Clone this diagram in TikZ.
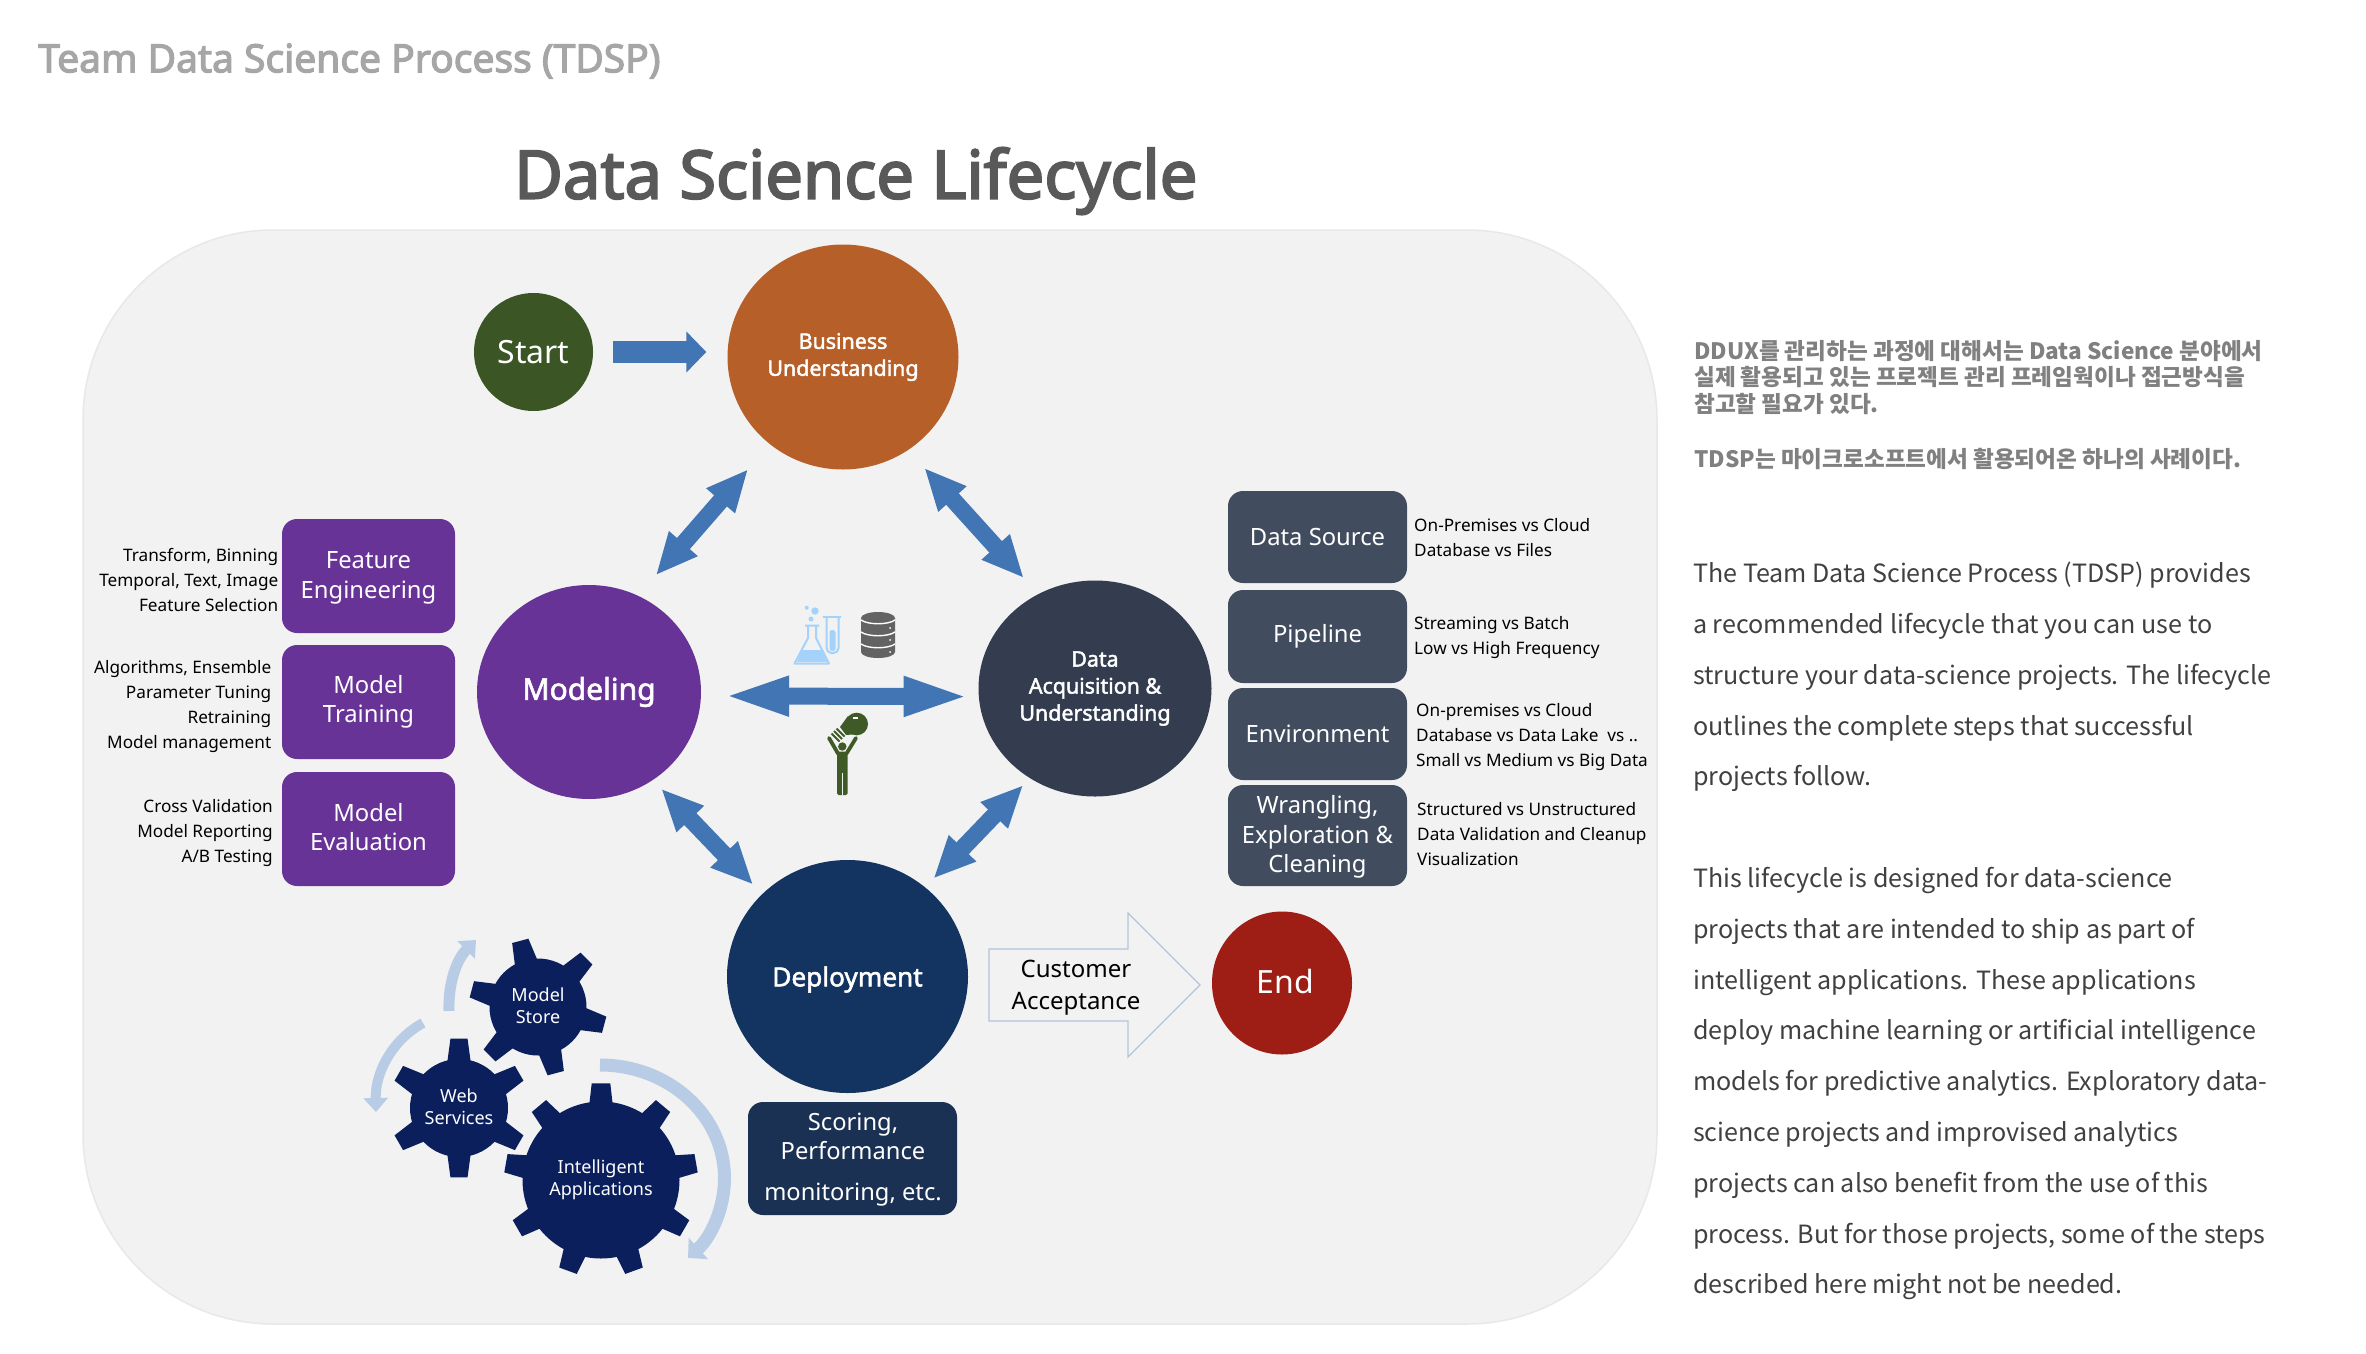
\documentclass[tikz,border=0pt]{standalone}
\usepackage{fontspec}
\setmainfont{Noto Sans}
\newfontfamily\krfont{Noto Sans CJK KR}
\newfontfamily\nsb[FakeBold=2]{Noto Sans}
\newfontfamily\nsbb[FakeBold=3]{Noto Sans}
\usetikzlibrary{shapes.geometric,arrows.meta,calc}
\definecolor{panel}{HTML}{F2F2F2}
\definecolor{panelline}{HTML}{E8E8E8}
\definecolor{bizc}{HTML}{B65F28}
\definecolor{startc}{HTML}{3B5525}
\definecolor{modc}{HTML}{683396}
\definecolor{datac}{HTML}{343D50}
\definecolor{depc}{HTML}{133360}
\definecolor{endc}{HTML}{9E1D14}
\definecolor{rbox}{HTML}{414C5E}
\definecolor{scorec}{HTML}{1A3153}
\definecolor{arrowc}{HTML}{4275B3}
\definecolor{gearc}{HTML}{0B1F5C}
\definecolor{arcc}{HTML}{B8CCE6}
\definecolor{flaskc}{HTML}{A5D2FB}
\definecolor{dbc}{HTML}{636363}
\definecolor{personc}{HTML}{3F5A27}
\newcommand{\fsz}[2]{\fontsize{#1}{#2}\selectfont}
\newcommand{\lowerby}[2]{\raisebox{-#1}[\height][\depth]{#2}}
\tikzset{
  x=1pt,y=-1pt,
  stage/.style={ellipse,inner sep=0pt,text=white,align=center},
  purplebox/.style={rounded corners=15pt,fill=modc,text=white,align=center,minimum width=173pt,minimum height=114pt,inner sep=0pt,font=\fsz{23.8}{29.5}},
  slatebox/.style={rounded corners=15pt,fill=rbox,text=white,align=center,minimum width=179pt,inner sep=0pt,font=\fsz{23.8}{29.5}},
  leftnote/.style={anchor=east,align=right,inner sep=0pt,text=black,font=\fsz{17.2}{25}},
  rightnote/.style={anchor=west,align=left,inner sep=0pt,text=black,font=\fsz{17.2}{25}},
  dbl/.style={line width=17pt,draw=arrowc,{Triangle[length=42pt,width=35pt]}-{Triangle[length=42pt,width=35pt]}},
  dblwide/.style={line width=17pt,draw=arrowc,{Triangle[length=68pt,width=35pt]}-{Triangle[length=68pt,width=35pt]}},
  arcarrow/.style={draw=arcc,-{Triangle[length=14pt,width=24pt]}},
  geartext/.style={text=white,align=center,inner sep=0pt,font=\fsz{18}{22}},
  para/.style={anchor=north west,align=left,inner sep=0pt,text=black!75,font=\krfont\fsz{25.1}{50.8}},
  krnote/.style={anchor=north west,align=left,inner sep=0pt,text=black!50,font=\krfont\bfseries\fsz{22.6}{26.5}},
}
% cx cy rbody rtip tip-half-angle base-half-angle angle-list
\newcommand{\mygear}[7]{%
  \begin{scope}[shift={(#1,#2)}]
    \fill[gearc] (0,0) circle[radius=#3];
    \foreach \a in {#7}{
      \fill[gearc] (-\a-#6:#3-3) -- (-\a-#5:#4) -- (-\a+#5:#4) -- (-\a+#6:#3-3) -- cycle;
    }
  \end{scope}}
\begin{document}
\begin{tikzpicture}
\useasboundingbox (0,0) rectangle (2366,1354);
\fill[white] (0,0) rectangle (2366,1354);

% panel
\draw[fill=panel,draw=panelline,line width=1.5pt,rounded corners=190pt] (83,230) rectangle (1657,1324);

% titles
\node[anchor=west,inner sep=0pt,text=black!35,font=\nsbb\fsz{39}{44}] (title) at (38,61) {Team Data Science Process (TDSP)};
\node[anchor=west,inner sep=0pt,text=black!65,font=\nsbb\fsz{66.8}{72}] (lifecycle) at (514,181) {Data Science Lifecycle};

% stage circles
\node[stage,fill=bizc,minimum width=231pt,minimum height=225pt,font=\nsb\fsz{21.4}{27}] (biz) at (843,357) {Business\\Understanding};
\node[stage,fill=startc,minimum width=119pt,minimum height=118pt,font=\fsz{32}{38}] (start) at (533.5,352) {Start};
\node[stage,fill=modc,minimum width=224pt,minimum height=214pt,font=\nsb\fsz{30}{34}] (mod) at (589,692) {Modeling};
\node[stage,fill=datac,minimum width=233pt,minimum height=216pt,font=\nsb\fsz{21.4}{27}] (data) at (1095,688.5) {Data\\Acquisition \&\\Understanding};
\node[stage,fill=depc,minimum width=241pt,minimum height=233pt,font=\nsb\fsz{26.2}{30}] (dep) at (847.5,976.5) {\lowerby{3pt}{Deployment}};
\node[stage,fill=endc,minimum width=140pt,minimum height=143pt,font=\fsz{32}{38}] (endn) at (1282,983) {\hspace*{7pt}\raisebox{1.5pt}[\height][\depth]{End}};

% connectors
\draw[line width=21.6pt,draw=arrowc,-{Triangle[length=20pt,width=40pt]},shorten <=19.5pt,shorten >=21pt] (start.east) -- (start.east -| biz.west);
\draw[dbl,shorten <=33pt,shorten >=27pt] (biz.-130.4) -- (mod.63.4);
\draw[dbl,shorten <=24pt,shorten >=21.5pt] (biz.-55.4) -- (data.121.5);
\draw[dbl,shorten <=12pt,shorten >=13pt] (mod.-54.2) -- (dep.136.2);
\draw[dbl,shorten <=9.5pt,shorten >=12pt] (data.-126.6) -- (dep.49.5);
\draw[dblwide,shorten <=20pt,shorten >=7pt] (mod.-2) -- (data.184);

% purple boxes
\node[purplebox] (fe) at (368.5,576) {\lowerby{2pt}{Feature}\\\lowerby{2pt}{Engineering}};
\node[purplebox] (mt) at (368.5,702) {Model\\Training};
\node[purplebox] (me) at (368.5,829) {\raisebox{2pt}[\height][\depth]{Model}\\\raisebox{2pt}[\height][\depth]{Evaluation}};
\node[leftnote] (fen) at (278.5,580) {Transform, Binning\\Temporal, Text, Image\\Feature Selection};
\node[leftnote] (mtn) at (271.5,706.5) {Algorithms, Ensemble\\Parameter Tuning\\Retraining\\Model management};
\node[leftnote] (men) at (273,833) {Cross Validation\\Model Reporting\\A/B Testing};

% slate boxes
\node[slatebox,minimum height=92pt] (ds) at (1317.5,537) {Data Source};
\node[slatebox,minimum height=93pt] (pl) at (1317.5,636.5) {Pipeline};
\node[slatebox,minimum height=92pt] (en) at (1317.5,734) {Environment};
\node[slatebox,minimum height=101pt] (wr) at (1317.5,835.5) {\lowerby{1.5pt}{Wrangling,}\\\lowerby{1.5pt}{Exploration \&}\\\lowerby{1.5pt}{Cleaning}};
\node[rightnote] (dsn) at (1414,537.5) {On-Premises vs Cloud\\Database vs Files};
\node[rightnote] (pln) at (1414,638) {Streaming vs Batch\\Low vs High Frequency};
\node[rightnote] (enn) at (1416,737.5) {On-premises vs Cloud\\Database vs Data Lake\ \ vs ..\\Small vs Medium vs Big Data};
\node[rightnote] (wrn) at (1417,834) {Structured vs Unstructured\\Data Validation and Cleanup\\Visualization};

% scoring box
\node[rounded corners=15pt,fill=scorec,minimum width=209pt,minimum height=113pt,inner sep=0pt] (sc) at (852.5,1158.5) {};
\node[text=white,align=center,inner sep=0pt,font=\fsz{23.7}{29}] (sc1) at (853,1136) {Scoring,\\Performance};
\node[text=white,align=center,inner sep=0pt,font=\fsz{23.7}{29}] (sc2) at (853,1194.5) {monitoring, etc.};

% customer acceptance arrow
\draw[fill=panel,draw=arcc!90!gray,line width=1.2pt] (989,949) -- (1128,949) -- (1128,913) -- (1200,985) -- (1128,1057) -- (1128,1021) -- (989,1021) -- cycle;
\node[align=center,inner sep=0pt,text=black,font=\fsz{24}{32.5}] (ca) at (1076,987.5) {Customer\\Acceptance};

% gears
\mygear{538}{1007}{48.5}{69}{7}{15}{105,45,-15,-75,-135,165}
\mygear{459}{1108}{49}{70}{7}{15}{90,30,-30,-90,-150,150}
\mygear{601}{1180}{78.5}{97}{5.5}{9}{90,50,10,-30,-70,-110,-150,170,130}
\node[geartext] (g1) at (538,1006) {Model\\Store};
\node[geartext] (g2) at (459,1107) {Web\\Services};
\node[geartext] (g3) at (601,1180) {Intelligent\\Applications};

% circular arrows
\draw[arcarrow,line width=13pt,-{Triangle[length=14pt,width=28pt]}] (600,1065) arc[start angle=-90,end angle=45,x radius=124.5,y radius=113];
\draw[arcarrow,line width=10pt] (423,1023) .. controls (395,1038) and (375,1070) .. (376,1112);
\draw[arcarrow,line width=11pt] (449,1011) .. controls (448,985) and (456,960) .. (476,940);

% flask and tube
\draw[flaskc,line width=2pt,line join=round,fill=panel] (805,625.5) -- (819,625.5) (808,625.5) -- (808,638) -- (794.5,663.5) -- (829,663.5) -- (816,638) -- (816,625.5);
\fill[flaskc] (802,650) -- (822,650) -- (827,662) -- (797,662) -- cycle;
\fill[flaskc] (811,619) circle[radius=2.5] (815,611) circle[radius=3.7] (806.7,607.7) circle[radius=2];
\draw[flaskc,line width=2pt,rounded corners=5pt] (826.5,617) -- (826.5,653) -- (838.5,653) -- (838.5,617);
\draw[flaskc,line width=2.2pt] (823,617) -- (841,617);
\fill[flaskc,rounded corners=2.5pt] (829.5,630) rectangle (835.5,651);

% database
\fill[dbc] (861,618) arc[start angle=180,end angle=360,x radius=17,y radius=6] -- (895,652) arc[start angle=0,end angle=180,x radius=17,y radius=6] -- cycle;
\draw[white,line width=1.4pt] (861,620) .. controls (868,625) and (888,625) .. (895,620);
\draw[white,line width=1.4pt] (861,632) .. controls (868,637) and (888,637) .. (895,632);
\draw[white,line width=1.4pt] (861,644) .. controls (868,649) and (888,649) .. (895,644);
\fill[white] (890,628) circle[radius=1] (890,640) circle[radius=1] (890,652) circle[radius=1];

% person with bulb
\fill[personc] (856.7,724) circle[radius=11.3];
\fill[personc] (848,716) -- (840,727) -- (846,735) -- (858,734) -- cycle;
\draw[personc,line width=2pt] (834,731) -- (842,739) (831.5,733.5) -- (839.5,741.5) (836.5,728.5) -- (844.5,736.5);
\fill[white] (853,717) rectangle (858,718.5);
\fill[personc] (842.3,746.5) circle[radius=4.2];
\draw[personc,line width=3.8pt,line cap=round,line join=round] (829,738) -- (838,753.5) -- (846.5,753.5) -- (856,738);
\fill[personc,rounded corners=1.5pt] (837.2,752) rectangle (847.5,795);
\draw[panel,line width=1pt] (842.3,773) -- (842.3,795);

% right text
\node[krnote] (k1) at (1694,340) {DDUX를 관리하는 과정에 대해서는 Data Science 분야에서\\실제 활용되고 있는 프로젝트 관리 프레임웍이나 접근방식을\\참고할 필요가 있다.};
\node[krnote] (k2) at (1694,448) {TDSP는 마이크로소프트에서 활용되어온 하나의 사례이다.};
\node[para] (p1) at (1693,562) {The Team Data Science Process (TDSP) provides\\a recommended lifecycle that you can use to\\structure your data-science projects. The lifecycle\\outlines the complete steps that successful\\projects follow.};
\node[para] (p2) at (1693,867) {This lifecycle is designed for data-science\\projects that are intended to ship as part of\\intelligent applications. These applications\\deploy machine learning or artificial intelligence\\models for predictive analytics. Exploratory data-\\science projects and improvised analytics\\projects can also benefit from the use of this\\process. But for those projects, some of the steps\\described here might not be needed.};
\end{tikzpicture}
\end{document}
